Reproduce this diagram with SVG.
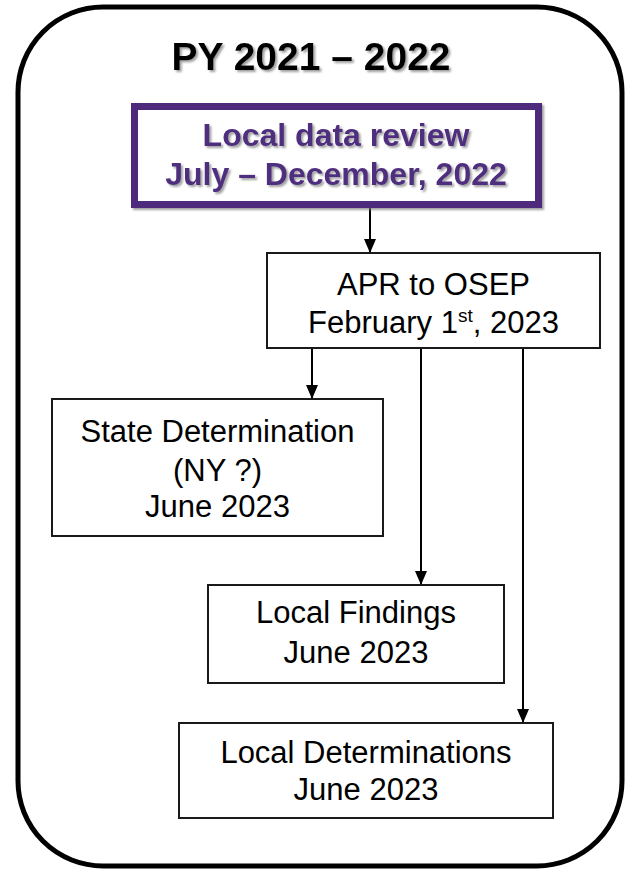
<svg xmlns="http://www.w3.org/2000/svg" width="627" height="870" viewBox="0 0 627 870">
<style>
.box{fill:#fff;stroke:#1a1a1a;stroke-width:2}
.t{font-family:"Liberation Sans",Arial,sans-serif;font-size:31px;fill:#000;text-anchor:middle}
.tb{font-family:"Liberation Sans",Arial,sans-serif;font-weight:bold;text-anchor:middle}
.conn{stroke:#000;stroke-width:2;fill:none;marker-end:url(#ah)}
</style>
<defs>
<marker id="ah" viewBox="0 0 14 12" refX="14" refY="6" markerWidth="14" markerHeight="12" markerUnits="userSpaceOnUse" orient="auto">
<path d="M0,0 L14,6 L0,12 Z" fill="#000"/>
</marker>
<filter id="sh" x="-10%" y="-10%" width="120%" height="130%">
<feDropShadow dx="2" dy="2" stdDeviation="1" flood-color="#777" flood-opacity="0.7"/>
</filter>
</defs>
<g id="frame">
<rect x="18" y="7" width="604" height="859" rx="85" ry="85" fill="#fff" stroke="#000" stroke-width="5"/>
</g>
<g id="title">
<text class="tb" x="311" y="70" font-size="39" fill="#000" filter="url(#sh)">PY 2021 – 2022</text>
</g>
<g id="connectors">
<path class="conn" d="M370,208 V253"/>
<path class="conn" d="M312,348 V399"/>
<path class="conn" d="M421,348 V585"/>
<path class="conn" d="M523,348 V723"/>
</g>
<g id="local-data-review">
<rect x="134.5" y="106.5" width="404" height="98" fill="#fff" stroke="#4E2B7C" stroke-width="7" filter="url(#sh)"/>
<text class="tb" x="336" y="146" font-size="32" fill="#4F2D7F" filter="url(#sh)">Local data review</text>
<text class="tb" x="336" y="185" font-size="32" fill="#4F2D7F" filter="url(#sh)">July – December, 2022</text>
</g>
<g id="apr">
<rect class="box" x="267" y="253" width="333" height="95"/>
<text class="t" x="433.5" y="295">APR to OSEP</text>
<text class="t" x="433.5" y="333">February 1<tspan font-size="19" dy="-11">st</tspan><tspan dy="11">, 2023</tspan></text>
</g>
<g id="state-determination">
<rect class="box" x="52" y="399" width="331" height="137"/>
<text class="t" x="217.5" y="442">State Determination</text>
<text class="t" x="217.5" y="481">(NY ?)</text>
<text class="t" x="217.5" y="517">June 2023</text>
</g>
<g id="local-findings">
<rect class="box" x="208" y="585" width="296" height="98"/>
<text class="t" x="356" y="623">Local Findings</text>
<text class="t" x="356" y="663">June 2023</text>
</g>
<g id="local-determinations">
<rect class="box" x="179" y="723" width="374" height="95"/>
<text class="t" x="366" y="763">Local Determinations</text>
<text class="t" x="366" y="800">June 2023</text>
</g>
</svg>
